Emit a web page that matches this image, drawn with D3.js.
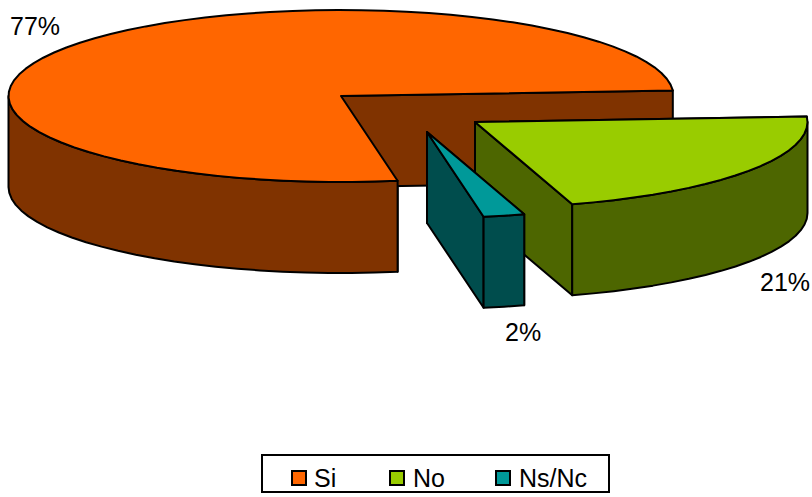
<!DOCTYPE html>
<html><head><meta charset="utf-8">
<script src="https://cdn.jsdelivr.net/npm/d3@7"></script>
<style>html,body{margin:0;padding:0;background:#fff}svg{display:block}text{font-family:"Liberation Sans",Arial,sans-serif;fill:#000}</style>
</head><body><div id="chart"></div>
<script>
const categories = ["Si", "No", "Ns/Nc"];
const values = [76.7, 21.3, 2.0];
const valueLabels = ["77%", "21%", "2%"];
const topColors = ["#FF6600", "#99CC00", "#009999"];
const sideColors = ["#803300", "#4D6600", "#004D4D"];

const W = 812, H = 497;
const rx = 332.5, ry = 86, depth = 91;
const centers = [[341, 96], [475, 122], [427, 132]];
const labelPos = [[10, 35], [760, 291], [505, 341]];
const legendX = [[292, 314], [390, 413], [496, 519]];

const svg = d3.select("#chart").append("svg").attr("width", W).attr("height", H);
const rad = d => d * Math.PI / 180;
const arcs = d3.pie().sort(null).startAngle(rad(170.2)).endAngle(rad(530.2))(values);

const px = (c, a) => c[0] + rx * Math.sin(a);
const py = (c, a) => c[1] - ry * Math.cos(a);
const line = d3.line();
const samples = (a0, a1) => {
  const n = Math.max(2, Math.ceil(Math.abs(a1 - a0) / rad(4)));
  return d3.range(n + 1).map(i => a0 + (a1 - a0) * i / n);
};
const styleFace = (sel, fill) => sel.attr("fill", fill).attr("stroke", "#000")
  .attr("stroke-width", 2).attr("stroke-linejoin", "round");

arcs.forEach((d, i) => {
  const c = centers[i];
  const g = svg.append("g").attr("class", "slice");
  const down = p => [p[0], p[1] + depth];
  const startPt = [px(c, d.startAngle), py(c, d.startAngle)];
  const endPt = [px(c, d.endAngle), py(c, d.endAngle)];
  const walls = [];
  walls.push([c, startPt, down(startPt), down(c)]);
  walls.push([c, endPt, down(endPt), down(c)]);
  walls.forEach(w => styleFace(g.append("path").attr("d", line(w) + "Z"), sideColors[i]));
  // outer curved wall: the front half of the rim only (a from 90deg to 270deg)
  const lo = Math.PI / 2, hi = Math.PI * 3 / 2;
  const ranges = [[d.startAngle, d.endAngle], [d.startAngle - 2 * Math.PI, d.endAngle - 2 * Math.PI]];
  ranges.forEach(([a0, a1]) => {
    const s = Math.max(a0, lo), e = Math.min(a1, hi);
    if (e > s) {
      const rim = samples(s, e).map(a => [px(c, a), py(c, a)]);
      styleFace(g.append("path").attr("d", line(rim.concat(rim.slice().reverse().map(down))) + "Z"), sideColors[i]);
    }
  });
  const top = [c].concat(samples(d.startAngle, d.endAngle).map(a => [px(c, a), py(c, a)]));
  styleFace(g.append("path").attr("d", line(top) + "Z"), topColors[i]);
  g.append("text").attr("x", labelPos[i][0]).attr("y", labelPos[i][1])
    .attr("font-size", 25).text(valueLabels[i]);
});

const legend = svg.append("g").attr("class", "legend");
legend.append("rect").attr("x", 262).attr("y", 455).attr("width", 347).attr("height", 37)
  .attr("fill", "#fff").attr("stroke", "#000").attr("stroke-width", 2);
categories.forEach((name, i) => {
  legend.append("rect").attr("x", legendX[i][0]).attr("y", 471).attr("width", 14).attr("height", 14)
    .attr("fill", topColors[i]).attr("stroke", "#000").attr("stroke-width", 2);
  legend.append("text").attr("x", legendX[i][1]).attr("y", 487).attr("font-size", 25).text(name);
});
</script></body></html>
